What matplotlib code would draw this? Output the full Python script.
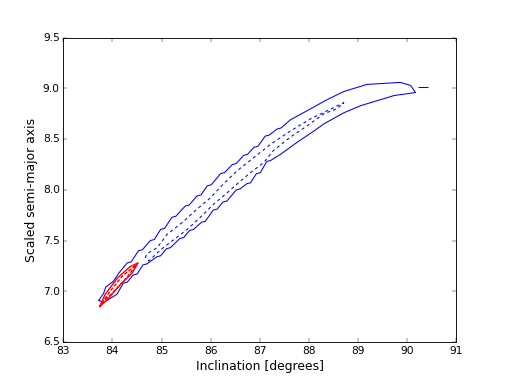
import numpy as np
import matplotlib
matplotlib.use("Agg")
import matplotlib.pyplot as plt

# outer (solid) blue contour
outer_x = [83.72, 83.82, 83.86, 84.02, 84.13,
           84.30, 84.38, 84.53, 84.61, 84.77, 84.85, 84.98, 85.06, 85.21, 85.29,
           85.48, 85.56, 85.72, 85.80, 85.93, 86.01, 86.20, 86.28, 86.44, 86.52,
           86.67, 86.75, 86.88, 86.96, 87.11, 87.19, 87.35, 87.43,
           87.62, 87.96, 88.37, 88.71, 89.18, 89.86, 90.07, 90.17,
           89.73, 89.46, 89.05, 88.71, 88.30, 88.10, 87.76, 87.42,
           87.22, 87.14, 87.01, 86.93, 86.81, 86.73, 86.60, 86.52, 86.33, 86.25,
           86.13, 86.05, 85.89, 85.81, 85.65, 85.57, 85.45, 85.37, 85.18, 85.10,
           84.98, 84.90, 84.70, 84.62, 84.50, 84.42, 84.30, 84.22,
           84.09, 83.82, 83.72]
outer_y = [6.91, 6.98, 7.04, 7.10, 7.18,
           7.28, 7.29, 7.40, 7.41, 7.50, 7.51, 7.61, 7.62, 7.73, 7.74,
           7.84, 7.85, 7.94, 7.95, 8.04, 8.05, 8.16, 8.17, 8.25, 8.26,
           8.34, 8.35, 8.42, 8.43, 8.53, 8.54, 8.60, 8.61,
           8.69, 8.78, 8.89, 8.97, 9.04, 9.06, 9.03, 8.96,
           8.93, 8.89, 8.83, 8.76, 8.65, 8.58, 8.47, 8.35,
           8.29, 8.28, 8.17, 8.16, 8.07, 8.06, 8.01, 8.00, 7.89, 7.88,
           7.81, 7.80, 7.69, 7.68, 7.61, 7.60, 7.53, 7.52, 7.43, 7.42,
           7.35, 7.34, 7.27, 7.26, 7.17, 7.16, 7.09, 7.08,
           6.97, 6.89, 6.91]

# small stray solid piece at the right end
stub_x = [90.23, 90.43]
stub_y = [9.01, 9.01]

# inner (dashed) blue contour
inner_x = [84.67, 84.70, 84.91, 85.11, 85.45, 85.72, 85.99, 86.26, 86.54, 86.88,
           87.22, 87.62, 88.03, 88.37, 88.71,
           88.57, 88.30, 87.96, 87.62, 87.28, 87.08, 86.81, 86.54, 86.26, 86.06,
           85.79, 85.52, 85.25, 84.98, 84.74, 84.67]
inner_y = [7.33, 7.37, 7.43, 7.56, 7.69, 7.81, 7.92, 8.06, 8.19, 8.32,
           8.45, 8.58, 8.70, 8.78, 8.86,
           8.80, 8.75, 8.63, 8.52, 8.39, 8.27, 8.17, 8.06, 7.94, 7.86,
           7.73, 7.61, 7.51, 7.41, 7.30, 7.33]

# red contours
red_x = [83.74, 83.85, 84.10, 84.35, 84.52, 84.40, 84.15, 83.90, 83.74]
red_y = [6.85, 6.97, 7.13, 7.24, 7.28, 7.18, 7.06, 6.92, 6.85]
red2_x = [83.78, 83.95, 84.20, 84.48, 84.30, 84.05, 83.78]
red2_y = [6.88, 7.00, 7.15, 7.26, 7.14, 7.01, 6.88]

x_ticks = [83, 84, 85, 86, 87, 88, 89, 90, 91]
y_ticks = [6.5, 7.0, 7.5, 8.0, 8.5, 9.0, 9.5]

plt.style.use('classic')
fig = plt.figure(figsize=(8, 6), dpi=63.375)
ax = fig.add_subplot(1, 1, 1)

ax.plot(outer_x, outer_y, color='b', lw=1.2)
ax.plot(stub_x, stub_y, color='b', lw=1.2, solid_capstyle='butt')
ax.plot(inner_x, inner_y, color='b', lw=1.2, ls='--', dashes=(3.5, 3.5))
ax.plot(red_x, red_y, color='r', lw=1.6)
ax.plot(red2_x, red2_y, color='r', lw=1.6, ls='--', dashes=(4, 2))

ax.set_xlim(83, 91)
ax.set_ylim(6.5, 9.5)
ax.set_xticks(x_ticks)
ax.set_yticks(y_ticks)
ax.set_xlabel('Inclination [degrees]', fontsize=14)
ax.set_ylabel('Scaled semi-major axis', fontsize=14)

fig.savefig('out.png', dpi=63.375, facecolor='white')
